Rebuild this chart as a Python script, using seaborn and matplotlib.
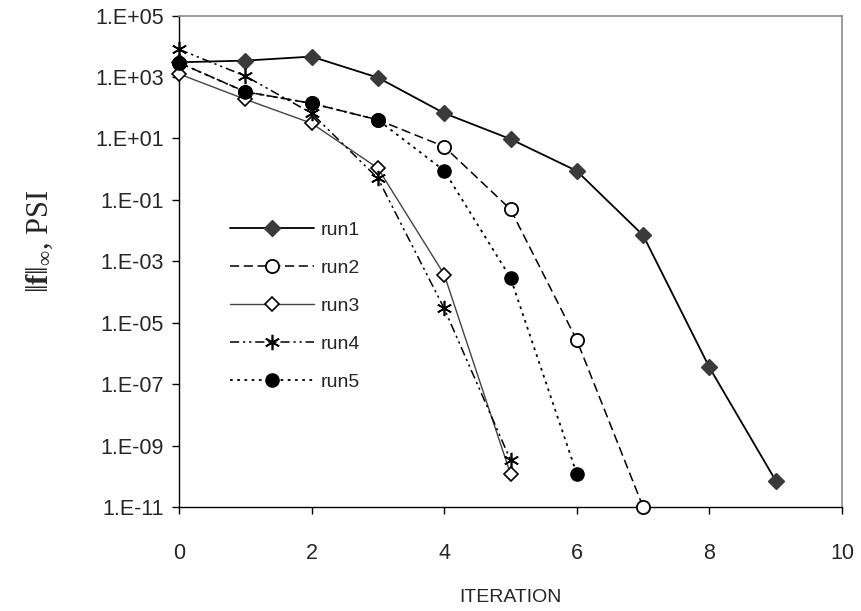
import numpy as np
import pandas as pd
import matplotlib
matplotlib.use("Agg")
import matplotlib.pyplot as plt
import seaborn as sns
from matplotlib.ticker import FixedLocator, FuncFormatter

sns.set_style("white")
plt.rcParams['font.family'] = ['Liberation Sans', 'DejaVu Sans']
plt.rcParams['mathtext.fontset'] = 'custom'
plt.rcParams['mathtext.rm'] = 'Liberation Serif'
plt.rcParams['mathtext.bf'] = 'Liberation Serif:bold'
plt.rcParams['mathtext.it'] = 'Liberation Serif:italic'

# ---- data ----
run1_x = [0, 1, 2, 3, 4, 5, 6, 7, 8, 9]
run1_y = [3.0e3, 3.4e3, 4.6e3, 9.5e2, 66, 9.5, 0.87, 7e-3, 3.5e-7, 7.2e-11]
run2_x = [0, 1, 2, 3, 4, 5, 6, 7]
run2_y = [2.9e3, 3.3e2, 1.38e2, 40, 5.4, 0.049, 2.7e-6, 1.0e-11]
run3_x = [0, 1, 2, 3, 4, 5]
run3_y = [1.25e3, 187, 31, 1.07, 3.7e-4, 1.2e-10]
run4_x = [0, 1, 2, 3, 4, 5]
run4_y = [7.9e3, 1.07e3, 66, 0.5, 2.9e-5, 3.4e-10]
run5_x = [0, 1, 2, 3, 4, 5, 6]
run5_y = [2.9e3, 326, 138, 40, 0.89, 2.9e-4, 1.2e-10]

run_names = ["run1", "run2", "run3", "run4", "run5"]
xs = [run1_x, run2_x, run3_x, run4_x, run5_x]
ys = [run1_y, run2_y, run3_y, run4_y, run5_y]

x_ticks = [0, 2, 4, 6, 8, 10]
y_exponents = [5, 3, 1, -1, -3, -5, -7, -9, -11]

df = pd.concat([pd.DataFrame({"iteration": x, "value": y, "run": n})
                for n, x, y in zip(run_names, xs, ys)], ignore_index=True)

styles = {
    "run1": dict(color="black", lw=1.3, ls="-", marker="D", ms=8,
                 mfc="#3a3a3a", mec="#3a3a3a"),
    "run2": dict(color="black", lw=1.1, ls=(0, (6, 3)), marker="o", ms=9.5,
                 mfc="white", mec="black", mew=1.3),
    "run3": dict(color="#444444", lw=1.0, ls="-", marker="D", ms=7,
                 mfc="white", mec="black", mew=1.2),
    "run4": dict(color="black", lw=1.1, ls=(0, (6, 2.5, 1.5, 2.5, 1.5, 2.5)),
                 marker=(6, 2, 0), ms=11, mec="black", mew=1.2),
    "run5": dict(color="black", lw=1.3, ls=(0, (1.5, 2.5)), marker="o", ms=9.5,
                 mfc="black", mec="black"),
}

fig = plt.figure(figsize=(8.61, 6.11), dpi=100)
ax = fig.add_axes([179 / 861, 1 - 507 / 611, (842 - 179) / 861, (507 - 15.5) / 611])

for name in run_names:
    sub = df[df["run"] == name]
    st = styles[name]
    sns.lineplot(data=sub, x="iteration", y="value", ax=ax, label=name,
                 color=st["color"], linewidth=st["lw"], linestyle=st["ls"],
                 marker=st["marker"], markersize=st["ms"],
                 markerfacecolor=st.get("mfc", "black"),
                 markeredgecolor=st["mec"], markeredgewidth=st.get("mew", 1.0),
                 clip_on=False, zorder=3, estimator=None)

ax.set_yscale("log")
ax.set_xlim(0, 10)
ax.set_ylim(1e-11, 1e5)
ax.xaxis.set_major_locator(FixedLocator(x_ticks))
ax.yaxis.set_major_locator(FixedLocator([10.0 ** e for e in y_exponents]))
ax.yaxis.set_minor_locator(FixedLocator([]))
ax.yaxis.set_major_formatter(FuncFormatter(lambda v, p: "1.E%+03d" % int(round(np.log10(v)))))
ax.xaxis.set_major_formatter(FuncFormatter(lambda v, p: "%d" % v))

for s in ["left", "bottom"]:
    ax.spines[s].set_color("black")
    ax.spines[s].set_linewidth(1.0)
for s in ["top", "right"]:
    ax.spines[s].set_color("#8c8c8c")
    ax.spines[s].set_linewidth(1.2)

ax.tick_params(axis="both", which="major", direction="out", length=5, width=1,
               color="black", labelsize=15.5, left=True, bottom=True)
ax.tick_params(axis="y", pad=6)
ax.tick_params(axis="x", pad=21)

ax.set_xlabel("ITERATION", fontsize=14,
              family=["Liberation Sans Narrow", "Liberation Sans"])
ax.xaxis.set_label_coords(0.5, -(597 - 507) / (507 - 15.5))
ax.xaxis.label.set_va("center")
ax.set_ylabel(r"$\|\mathbf{f}\|_{\infty}$, PSI", fontsize=22,
              family=["Liberation Serif", "DejaVu Serif"])
ax.yaxis.set_label_coords((40 - 179) / (842 - 179), 0.54)
ax.yaxis.label.set_va("center")

leg = ax.legend(loc="upper left", bbox_to_anchor=(230 / 861, 1 - 221 / 611),
                bbox_transform=fig.transFigure, frameon=False, fontsize=14,
                handlelength=4.3, handletextpad=0.35, labelspacing=1.05,
                borderpad=0, borderaxespad=0)

fig.savefig("out.png", dpi=100, facecolor="white")
